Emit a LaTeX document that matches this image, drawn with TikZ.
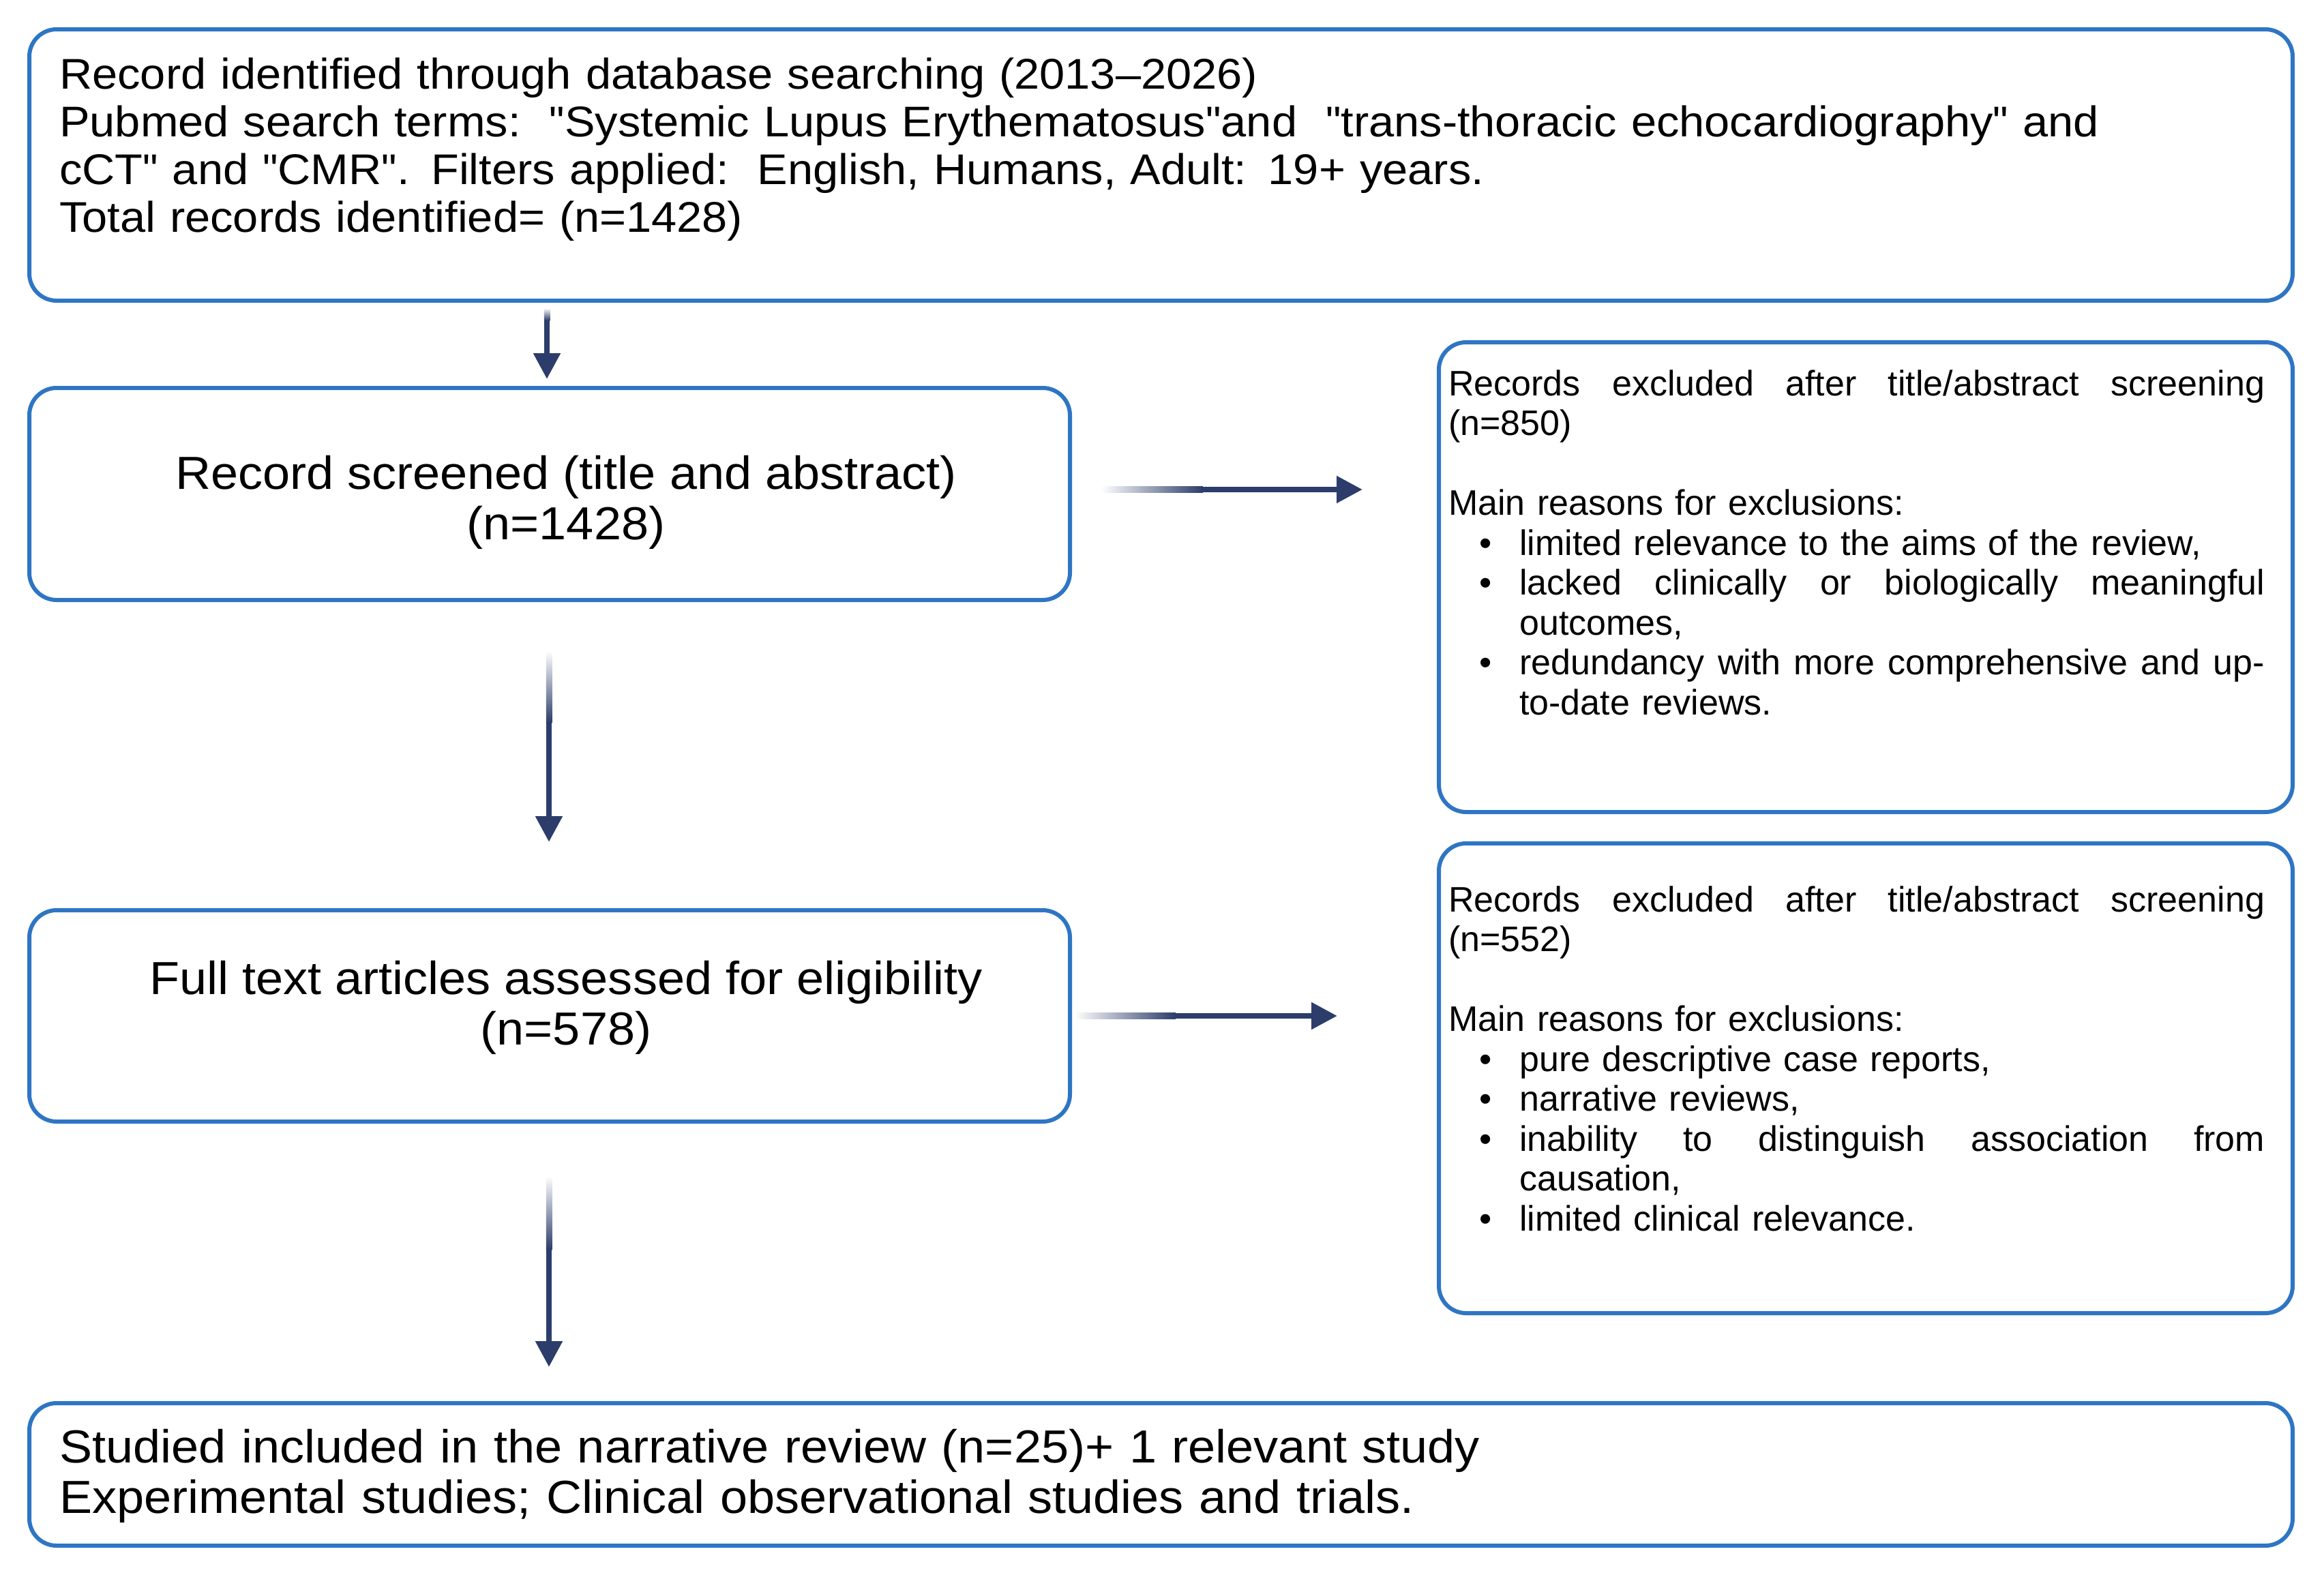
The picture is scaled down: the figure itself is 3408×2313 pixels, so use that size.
\documentclass[tikz,border=0pt]{standalone}
\usepackage{fontspec}
\setmainfont{Liberation Sans}[FakeStretch=1.06]
\newfontfamily\rfont{Liberation Sans}
\font\qf="Liberation Sans" at 63pt
\newcommand\dq{{\qf"}}
\usetikzlibrary{arrows.meta,calc}
\definecolor{boxblue}{RGB}{46,117,196}
\definecolor{arrnavy}{RGB}{44,61,107}
\newcommand\bul{\makebox[104pt][l]{\hspace{45pt}•}}
\newcommand\jl[2]{\makebox[#1][s]{\spaceskip=14pt plus 1fil\relax\xspaceskip=14pt plus 1fil\relax #2}}
\tikzset{
  box/.style={draw=boxblue, line width=6pt, rounded corners=40pt, fill=white, inner sep=0pt},
  arr/.style={draw=arrnavy, line width=8.5pt, -{Triangle[length=38pt,width=38pt]}},
  ttext/.style={font=\fontsize{63}{70}\selectfont, inner sep=0pt, anchor=north west, text width=3250pt, align=left},
  mtext/.style={font=\fontsize{68}{74}\selectfont, inner sep=0pt, anchor=north, align=center},
  btext/.style={font=\fontsize{68}{74}\selectfont, inner sep=0pt, anchor=north west, text width=3200pt, align=left},
  rtext/.style={font=\rfont\fontsize{52}{58.5}\selectfont, inner sep=0pt, anchor=north west, text width=1205pt, align=left},
  fadev/.style={top color=white, bottom color=arrnavy},
  fadeh/.style={left color=white, right color=arrnavy}
}
\begin{document}
\begin{tikzpicture}[x=1pt,y=-1pt]
\useasboundingbox[fill=white] (0,0) rectangle (3408,2313);
% boxes
\node[box, minimum width=3319pt, minimum height=398pt] (b1) at (1702.5,242) {};
\node[box, minimum width=1526pt, minimum height=311pt] (b2) at (806,724.5) {};
\node[box, minimum width=1526pt, minimum height=310pt] (b3) at (806,1490) {};
\node[box, minimum width=3319pt, minimum height=209pt] (b4) at (1702.5,2162.5) {};
\node[box, minimum width=1252pt, minimum height=689pt] (bA) at (2736,846.5) {};
\node[box, minimum width=1252pt, minimum height=689pt] (bB) at (2736,1581.5) {};
% texts
\node[ttext] (t1) at (87,81) {\strut Record identified through database searching (2013–2026)\\
Pubmed search terms:\ \ \dq Systemic Lupus Erythematosus\dq and\ \ \dq trans-thoracic echocardiography\dq\ and\\
cCT\dq\ and \dq CMR\dq. Filters applied:\ \ English, Humans, Adult: 19+ years.\\
Total records identified= (n=1428)};
\node[mtext] (t2) at (830,665) {\strut Record screened (title and abstract)\\(n=1428)};
\node[mtext] (t3) at (830,1406) {\strut Full text articles assessed for eligibility\\(n=578)};
\node[btext] (t4) at (87,2093) {\strut Studied included in the narrative review (n=25)+ 1 relevant study\\
Experimental studies; Clinical observational studies and trials.};
\node[rtext] (tA) at (2124,539) {\strut\jl{1197pt}{Records excluded after title/abstract screening}\\
(n=850)\\
\strut\\
Main reasons for exclusions:\\
\bul limited relevance to the aims of the review,\\
\bul\jl{1093pt}{lacked clinically or biologically meaningful}\\
\hspace*{104pt}outcomes,\\
\bul\jl{1093pt}{redundancy with more comprehensive and up-}\\
\hspace*{104pt}to-date reviews.};
\node[rtext] (tB) at (2124,1296) {\strut\jl{1197pt}{Records excluded after title/abstract screening}\\
(n=552)\\
\strut\\
Main reasons for exclusions:\\
\bul pure descriptive case reports,\\
\bul narrative reviews,\\
\bul\jl{1093pt}{inability to distinguish association from}\\
\hspace*{104pt}causation,\\
\bul limited clinical relevance.};
% arrows
\coordinate (a1f) at (802,470);
\shade[fadev] (797.75,452) rectangle (806.25,470);
\draw[arr, shorten >=10pt] (a1f) -- (b2.north -| a1f);
\coordinate (a2f) at (805,1060);
\shade[fadev] (800.75,955) rectangle (809.25,1060);
\draw[arr, shorten >=97pt] (a2f) -- (b3.north -| a2f);
\coordinate (a3f) at (805,1833);
\shade[fadev] (800.75,1725) rectangle (809.25,1833);
\draw[arr, shorten >=50pt] (a3f) -- (b4.north -| a3f);
\coordinate (h1f) at (1764,718);
\shade[fadeh] (1615,713.75) rectangle (1764,722.25);
\draw[arr, shorten >=109pt] (h1f) -- (bA.west |- h1f);
\coordinate (h2f) at (1724,1490);
\shade[fadeh] (1576,1485.75) rectangle (1724,1494.25);
\draw[arr, shorten >=146pt] (h2f) -- (bB.west |- h2f);
\end{tikzpicture}
\end{document}
